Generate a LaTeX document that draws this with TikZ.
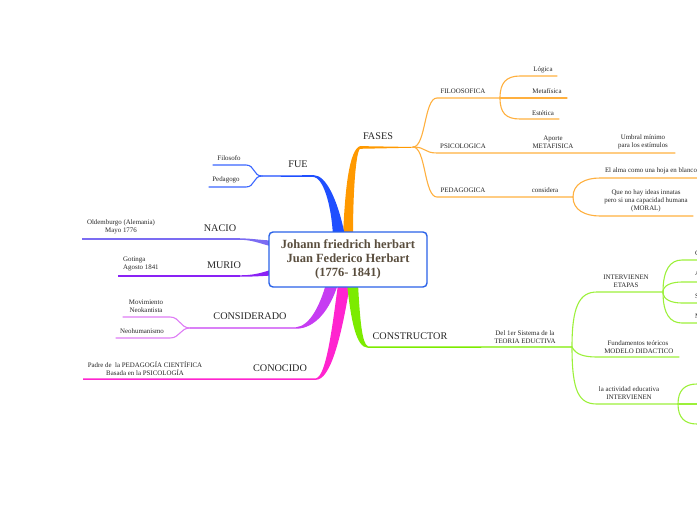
\documentclass[tikz,border=0pt]{standalone}
\usepackage{fontspec}
\setmainfont{Liberation Serif}
\usetikzlibrary{positioning}

\definecolor{hubblue}{HTML}{2A62E8}
\definecolor{titlebrown}{HTML}{5A4E3E}
\definecolor{fasesorange}{HTML}{FF9900}
\definecolor{fasestwig}{HTML}{FFB03F}
\definecolor{fueblue}{HTML}{1F4FFF}
\definecolor{fuetwig}{HTML}{3A66FF}
\definecolor{nacioviolet}{HTML}{7B6CF2}
\definecolor{muriopurple}{HTML}{8A22F5}
\definecolor{consmagenta}{HTML}{C63CF2}
\definecolor{constwig}{HTML}{DE7CF5}
\definecolor{conopink}{HTML}{FF24CF}
\definecolor{buildgreen}{HTML}{7CEB00}
\definecolor{buildtwig}{HTML}{9CF03A}

\begin{document}
\begin{tikzpicture}[
			x=1pt, y=-1pt,
			hub/.style={
				rectangle,
				draw=hubblue,
				fill=white,
				line width=1.4pt,
				rounded corners=4pt,
				minimum width=158pt,
				minimum height=55pt,
				align=center,
				text=titlebrown,
				font=\fontsize{12.5}{13.6}\selectfont\bfseries
			},
			topic/.style={
				font=\fontsize{10.2}{12}\selectfont,
				text=black!85,
				inner sep=1pt
			},
			leaf/.style={
				font=\fontsize{6.9}{8}\selectfont,
				align=center,
				text=black!85,
				inner sep=1pt
			},
			twig/.style={
				line width=1.1pt,
				line cap=round
			},
			limb/.style={
				line width=1.5pt
			}
			]
			
			\clip (0,0) rectangle (697,520);
			
			% Branch 1: FASES (tapered limb)
			\coordinate (fases-j) at (413,147);
			\fill[fasesorange] (343,236) .. controls (345,190) and (349,150) .. (360,146.1) -- (fases-j) -- (413,147.7) -- (360,148.8) .. controls (356,152) and (353,190) .. (353,236) -- cycle;
			
			% Branch 2: FUE
			\coordinate (fue-j) at (262,176);
			\fill[fueblue] (345,236) .. controls (338,200) and (326,175.2) .. (314,175.2) -- (262,175.4) -- (262,176.6) -- (314,177) .. controls (322,178) and (331,200) .. (333,236) -- cycle;
			
			% Branch 3: NACIO
			\coordinate (nacio-j) at (240,239);
			\coordinate (nacio-b) at (82,239);
			\fill[nacioviolet] (238,238.3) .. controls (252,238.3) and (258,240) .. (272,240.5) -- (272,246.5) .. controls (258,243) and (252,239.7) .. (238,239.7) -- cycle;
			\draw[limb, nacioviolet] (nacio-j) -- (nacio-b);
			
			% Branch 4: MURIO
			\coordinate (murio-j) at (240,276);
			\coordinate (murio-b) at (118,276);
			\fill[muriopurple] (238,275.3) .. controls (252,275.3) and (258,274) .. (272,269.5) -- (272,275.5) .. controls (258,276.3) and (252,276.7) .. (238,276.7) -- cycle;
			\draw[limb, muriopurple] (murio-j) -- (murio-b);
			
			% Branch 5: CONSIDERADO
			\coordinate (consid-j) at (190,328);
			\fill[consmagenta] (338,284) .. controls (330,310) and (315,328.7) .. (296,328.7) -- (190,328.7) -- (190,327.3) -- (296,327.3) .. controls (310,326) and (320,305) .. (326,284) -- cycle;
			
			% Branch 6: CONOCIDO
			\coordinate (cono-b) at (83,379);
			\fill[conopink] (350,284) .. controls (341,340) and (330,379.8) .. (316,379.8) -- (83,379.8) -- (83,378.3) -- (316,378.3) .. controls (326,376) and (332,330) .. (338,284) -- cycle;
			
			% Branch 7: CONSTRUCTOR
			\coordinate (build-j) at (572,347);
			\fill[buildgreen] (347,284) .. controls (351,320) and (356,347.8) .. (368,347.8) -- (572,347.7) -- (572,346.3) -- (368,346.3) .. controls (362,344) and (360,320) .. (358,284) -- cycle;
			
			% Central topic
			\node[hub] (hub) at (348,259.5) {Johann friedrich herbart\\Juan Federico Herbart\\(1776- 1841)};
			
			% FASES: sub branches
			\node[topic] (fases) at (378,136) {FASES};
			\coordinate (filo-a) at (437,98);
			\coordinate (filo-j) at (500,98);
			\coordinate (psico-a) at (437,153);
			\coordinate (psico-b) at (675,153);
			\coordinate (peda-a) at (437,197);
			\coordinate (peda-j) at (573,197);
			\draw[twig, fasestwig] (fases-j) .. controls +(13,0) and +(-13,0) .. (filo-a) -- (filo-j);
			\draw[twig, fasestwig] (fases-j) .. controls +(13,0) and +(-13,0) .. (psico-a) -- (psico-b);
			\draw[twig, fasestwig] (fases-j) .. controls +(13,0) and +(-13,0) .. (peda-a) -- (peda-j);
			\node[leaf] (filo) at (463,91) {FILOOSOFICA};
			\node[leaf] (psico) at (463,146) {PSICOLOGICA};
			\node[leaf] (peda) at (463,190) {PEDAGOGICA};
			
			% FILOOSOFICA
			\draw[twig, fasestwig] (filo-j) .. controls +(0,-15) and +(-14,0) .. (520,76) coordinate (logica-a) -- (557,76);
			\draw[twig, fasestwig] (filo-j) -- (567,98);
			\draw[twig, fasestwig] (filo-j) .. controls +(0,15) and +(-14,0) .. (520,119) coordinate (estetica-a) -- (559,119);
			\node[leaf] (logica) at (543,70) {Lógica};
			\node[leaf] (meta) at (547,91) {Metafísica};
			\node[leaf] (estetica) at (543,113) {Estética};
			
			% PSICOLOGICA
			\node[leaf] (aporte) at (553,142) {Aporte\\METAFISICA};
			\node[leaf] (umbral) at (643,142) {Umbral mínimo\\para los estímulos};
			
			% PEDAGOGICA
			\node[leaf] (considera) at (545,190) {considera};
			\draw[twig, fasestwig] (peda-j) .. controls +(0,-13) and +(-15,0) .. (600,178) coordinate (alma-a) -- (705,178);
			\draw[twig, fasestwig] (peda-j) .. controls +(0,13) and +(-15,0) .. (600,216) coordinate (ideas-a) -- (693,216);
			\node[leaf] (alma) at (651,171) {El alma como una hoja en blanco};
			\node[leaf] (ideas) at (646,201) {Que no hay ideas innatas\\pero si una capacidad humana\\(MORAL)};
			
			% FUE
			\node[topic] (fue) at (298,164) {FUE};
			\draw[twig, fuetwig] (fue-j) .. controls +(-9,0) and +(9,0) .. (246,165) coordinate (filosofo-a) -- (213,165);
			\draw[twig, fuetwig] (fue-j) .. controls +(-9,0) and +(9,0) .. (246,187) coordinate (pedagogo-a) -- (209,187);
			\node[leaf] (filosofo) at (229,158) {Filosofo};
			\node[leaf] (pedagogo) at (226,180) {Pedagogo};
			
			% NACIO / MURIO
			\node[topic] (nacio) at (220,228) {NACIO};
			\node[leaf] (oldem) at (121,227) {Oldemburgo (Alemania)\\Mayo 1776};
			\node[topic] (murio) at (224,265) {MURIO};
			\node[leaf, align=left, anchor=west] (gotinga) at (122,264) {Gotinga\\Agosto 1841};
			
			% CONSIDERADO
			\node[topic] (considerado) at (250,316) {CONSIDERADO};
			\draw[twig, constwig] (consid-j) .. controls +(-10,0) and +(10,0) .. (170,317) coordinate (neokant-a) -- (123,317);
			\draw[twig, constwig] (consid-j) .. controls +(-10,0) and +(10,0) .. (170,338) coordinate (neohum-a) -- (116,338);
			\node[leaf] (neokant) at (146,306) {Movimiento\\Neokantista};
			\node[leaf] (neohum) at (142,331) {Neohumanismo};
			
			% CONOCIDO
			\node[topic] (conocido) at (280,368) {CONOCIDO};
			\node[leaf] (padre) at (145,369) {Padre de\ \ la PEDAGOGÍA CIENTÍFICA\\Basada en la PSICOLOGÍA};
			
			% CONSTRUCTOR
			\node[topic] (constructor) at (410,336) {CONSTRUCTOR};
			\node[leaf] (sistema) at (525,337) {Del 1er Sistema de la\\TEORIA EDUCTIVA};
			\coordinate (etapas-j) at (663,292);
			\coordinate (actividad-j) at (678,404);
			\draw[twig, buildtwig] (build-j) .. controls +(0,-40) and +(-18,0) .. (597,292) coordinate (etapas-a) -- (etapas-j);
			\draw[twig, buildtwig] (build-j) .. controls +(4,8) and +(-12,0) .. (597,357) coordinate (modelo-a) -- (679,357);
			\draw[twig, buildtwig] (build-j) .. controls +(0,45) and +(-18,0) .. (597,404) coordinate (actividad-a) -- (actividad-j);
			\node[leaf] (etapas) at (626,281) {INTERVIENEN\\ETAPAS};
			\node[leaf] (modelo) at (638,347) {Fundamentos teóricos\\\ MODELO DIDACTICO};
			\node[leaf] (actividad) at (629,393) {la actividad educativa\\INTERVIENEN};
			
			% ETAPAS: four steps
			\draw[twig, buildtwig] (etapas-j) .. controls +(0,-22) and +(-12,0) .. (682,260) -- (705,260);
			\draw[twig, buildtwig] (etapas-j) .. controls +(0,-7) and +(-10,0) .. (682,282) -- (705,282);
			\draw[twig, buildtwig] (etapas-j) .. controls +(0,8) and +(-10,0) .. (682,303) -- (705,303);
			\draw[twig, buildtwig] (etapas-j) .. controls +(0,22) and +(-12,0) .. (682,323) -- (705,323);
			\node[leaf, anchor=west] (claridad) at (694,253) {Claridad};
			\node[leaf, anchor=west] (asociacion) at (694,273) {Asociación};
			\node[leaf, anchor=west] (sistemastep) at (694,296) {Sistema};
			\node[leaf, anchor=west] (metodo) at (694,316) {Método};
			
			% ACTIVIDAD: three parts
			\draw[twig, buildtwig] (actividad-j) .. controls +(0,-14) and +(-12,0) .. (697,384) -- (705,384);
			\draw[twig, buildtwig] (actividad-j) -- (705,404);
			\draw[twig, buildtwig] (actividad-j) .. controls +(0,14) and +(-12,0) .. (697,424) -- (705,424);
			
		\end{tikzpicture}
\end{document}
